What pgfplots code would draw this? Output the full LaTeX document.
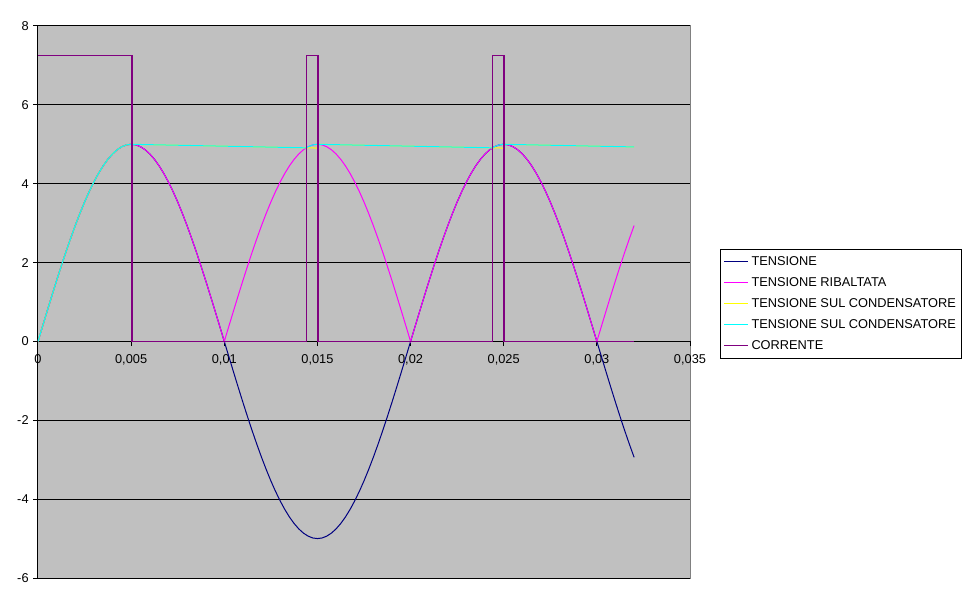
\documentclass[border=0pt]{standalone}
\usepackage{pgfplots}
\pgfplotsset{compat=1.18}
\usepackage{pgfplotstable}
\usepackage{fontspec}
\setmainfont{Liberation Sans}

\definecolor{sfondo}{HTML}{C0C0C0}
\definecolor{cornice}{HTML}{808080}
\definecolor{blu}{HTML}{000080}
\definecolor{viola}{HTML}{800080}
\definecolor{fucsia}{HTML}{FF00FF}
\definecolor{giallo}{HTML}{FFFF00}
\definecolor{ciano}{HTML}{00FFFF}

% t, tensione, tensione ribaltata
\pgfplotstableread{
t v a
0 0 0
0.00025 0.392 0.392
0.0005 0.782 0.782
0.00075 1.167 1.167
0.001 1.545 1.545
0.00125 1.913 1.913
0.0015 2.270 2.270
0.00175 2.612 2.612
0.002 2.939 2.939
0.00225 3.247 3.247
0.0025 3.536 3.536
0.00275 3.802 3.802
0.003 4.045 4.045
0.00325 4.263 4.263
0.0035 4.455 4.455
0.00375 4.619 4.619
0.004 4.755 4.755
0.00425 4.862 4.862
0.0045 4.938 4.938
0.00475 4.985 4.985
0.005 5 5
0.00525 4.985 4.985
0.0055 4.938 4.938
0.00575 4.862 4.862
0.006 4.755 4.755
0.00625 4.619 4.619
0.0065 4.455 4.455
0.00675 4.263 4.263
0.007 4.045 4.045
0.00725 3.802 3.802
0.0075 3.536 3.536
0.00775 3.247 3.247
0.008 2.939 2.939
0.00825 2.612 2.612
0.0085 2.270 2.270
0.00875 1.913 1.913
0.009 1.545 1.545
0.00925 1.167 1.167
0.0095 0.782 0.782
0.00975 0.392 0.392
0.01 0 0
0.01025 -0.392 0.392
0.0105 -0.782 0.782
0.01075 -1.167 1.167
0.011 -1.545 1.545
0.01125 -1.913 1.913
0.0115 -2.270 2.270
0.01175 -2.612 2.612
0.012 -2.939 2.939
0.01225 -3.247 3.247
0.0125 -3.536 3.536
0.01275 -3.802 3.802
0.013 -4.045 4.045
0.01325 -4.263 4.263
0.0135 -4.455 4.455
0.01375 -4.619 4.619
0.014 -4.755 4.755
0.01425 -4.862 4.862
0.0145 -4.938 4.938
0.01475 -4.985 4.985
0.015 -5 5
0.01525 -4.985 4.985
0.0155 -4.938 4.938
0.01575 -4.862 4.862
0.016 -4.755 4.755
0.01625 -4.619 4.619
0.0165 -4.455 4.455
0.01675 -4.263 4.263
0.017 -4.045 4.045
0.01725 -3.802 3.802
0.0175 -3.536 3.536
0.01775 -3.247 3.247
0.018 -2.939 2.939
0.01825 -2.612 2.612
0.0185 -2.270 2.270
0.01875 -1.913 1.913
0.019 -1.545 1.545
0.01925 -1.167 1.167
0.0195 -0.782 0.782
0.01975 -0.392 0.392
0.02 0 0
0.02025 0.392 0.392
0.0205 0.782 0.782
0.02075 1.167 1.167
0.021 1.545 1.545
0.02125 1.913 1.913
0.0215 2.270 2.270
0.02175 2.612 2.612
0.022 2.939 2.939
0.02225 3.247 3.247
0.0225 3.536 3.536
0.02275 3.802 3.802
0.023 4.045 4.045
0.02325 4.263 4.263
0.0235 4.455 4.455
0.02375 4.619 4.619
0.024 4.755 4.755
0.02425 4.862 4.862
0.0245 4.938 4.938
0.02475 4.985 4.985
0.025 5 5
0.02525 4.985 4.985
0.0255 4.938 4.938
0.02575 4.862 4.862
0.026 4.755 4.755
0.02625 4.619 4.619
0.0265 4.455 4.455
0.02675 4.263 4.263
0.027 4.045 4.045
0.02725 3.802 3.802
0.0275 3.536 3.536
0.02775 3.247 3.247
0.028 2.939 2.939
0.02825 2.612 2.612
0.0285 2.270 2.270
0.02875 1.913 1.913
0.029 1.545 1.545
0.02925 1.167 1.167
0.0295 0.782 0.782
0.02975 0.392 0.392
0.03 0 0
0.03025 -0.392 0.392
0.0305 -0.782 0.782
0.03075 -1.167 1.167
0.031 -1.545 1.545
0.03125 -1.913 1.913
0.0315 -2.270 2.270
0.03175 -2.612 2.612
0.032 -2.939 2.939
}\tensione

\begin{document}
\begin{tikzpicture}
\begin{axis}[
    width=489pt, height=414pt, scale only axis,
    xmin=0, xmax=0.035, ymin=-6, ymax=8,
    xtick={0,0.005,0.01,0.015,0.02,0.025,0.03,0.035},
    ytick={-6,-4,-2,0,2,4,6,8},
    scaled x ticks=false,
    axis x line=middle, axis y line=left,
    axis line style={-, black, line width=0.75pt},
    hide obscured x ticks=false, hide obscured y ticks=false,
    tick align=outside, major tick length=3.5pt,
    tick style={black, line width=0.75pt},
    /pgf/number format/assume math mode=true,
    xticklabel style={/pgf/number format/fixed, /pgf/number format/precision=3,
        /pgf/number format/use comma, yshift=-3pt},
    tick label style={font=\fontsize{9.6}{11}\selectfont},
    ymajorgrids=true,
    grid style={black, line width=0.75pt},
    axis background/.style={fill=sfondo, draw=cornice, line width=0.75pt},
    legend cell align=left,
    legend image code/.code={\draw[#1] (0pt,0pt) -- (18pt,0pt);},
    legend style={at={(axis description cs:1.046,0.596)}, anchor=north west,
        draw=black, fill=white, line width=0.75pt,
        font=\fontsize{9.6}{11}\selectfont, row sep=3.6pt,
        inner xsep=2.5pt, inner ysep=3pt},
]
\addplot[blu, line width=0.75pt] table[x=t, y=v] {\tensione};
\addplot[fucsia, line width=0.75pt] table[x=t, y=a] {\tensione};
\addplot[giallo, line width=0.75pt] coordinates {
    (0,0) (0.00025,0.392) (0.0005,0.782) (0.00075,1.167) (0.001,1.545)
    (0.00125,1.913) (0.0015,2.270) (0.00175,2.612) (0.002,2.939)
    (0.00225,3.247) (0.0025,3.536) (0.00275,3.802) (0.003,4.045)
    (0.00325,4.263) (0.0035,4.455) (0.00375,4.619) (0.004,4.755)
    (0.00425,4.862) (0.0045,4.938) (0.00475,4.985) (0.005,5)
    (0.006,4.990) (0.008,4.971) (0.010,4.952) (0.012,4.933) (0.014,4.914)
    (0.015,4.904) (0.015,5)
    (0.016,4.990) (0.018,4.971) (0.020,4.952) (0.022,4.933) (0.024,4.914)
    (0.025,4.904) (0.025,5)
    (0.026,4.990) (0.028,4.971) (0.030,4.952) (0.032,4.933)
};
\addplot[ciano, line width=0.75pt] coordinates {
    (0,0) (0.00025,0.392) (0.0005,0.782) (0.00075,1.167) (0.001,1.545)
    (0.00125,1.913) (0.0015,2.270) (0.00175,2.612) (0.002,2.939)
    (0.00225,3.247) (0.0025,3.536) (0.00275,3.802) (0.003,4.045)
    (0.00325,4.263) (0.0035,4.455) (0.00375,4.619) (0.004,4.755)
    (0.00425,4.862) (0.0045,4.938) (0.00475,4.985) (0.005,5)
    (0.006,4.990) (0.008,4.971) (0.010,4.952) (0.012,4.933) (0.014,4.914)
    (0.0144,4.910) (0.0145,4.938) (0.01475,4.985) (0.015,5)
    (0.016,4.990) (0.018,4.971) (0.020,4.952) (0.022,4.933) (0.024,4.914)
    (0.0244,4.910) (0.0245,4.938) (0.02475,4.985) (0.025,5)
    (0.026,4.990) (0.028,4.971) (0.030,4.952) (0.032,4.933)
};
\addplot[viola, line width=0.75pt] coordinates {
    (0,7.26) (0.005,7.26) (0.005,0) (0.00505,0) (0.00505,7.26) (0.00505,0)
    (0.0144,0) (0.0144,7.26)
    (0.015,7.26) (0.015,0) (0.01505,0) (0.01505,7.26) (0.01505,0)
    (0.0244,0) (0.0244,7.26)
    (0.025,7.26) (0.025,0) (0.02505,0) (0.02505,7.26) (0.02505,0)
    (0.032,0)
};
\legend{TENSIONE, TENSIONE RIBALTATA, TENSIONE SUL CONDENSATORE,
    TENSIONE SUL CONDENSATORE, CORRENTE}
\coordinate (sw) at (rel axis cs:0,0);
\end{axis}
\pgfresetboundingbox
\path[use as bounding box] ([shift={(-28.5pt,-19.5pt)}]sw) rectangle ([shift={(699pt,433.5pt)}]sw);
\end{tikzpicture}
\end{document}
